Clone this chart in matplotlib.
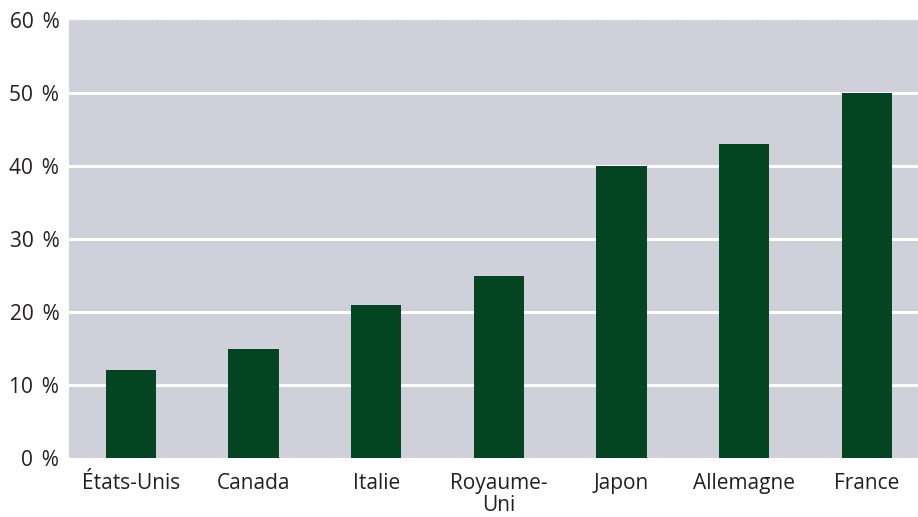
import matplotlib
matplotlib.use("Agg")
import matplotlib.pyplot as plt

plt.rcParams['font.family'] = ['Open Sans', 'DejaVu Sans']

countries = ["États-Unis", "Canada", "Italie", "Royaume-\nUni", "Japon", "Allemagne", "France"]
shares = [12, 15, 21, 25, 40, 43, 50]
y_ticks = [0, 10, 20, 30, 40, 50, 60]
y_labels = [f"{v}\u2009 %" for v in y_ticks]

bar_color = "#034421"
panel_color = "#D0D0DA"
text_color = "#231F20"

fig = plt.figure(figsize=(9.18, 5.17), dpi=100)
ax = fig.add_axes([0.0752, 0.1141, 0.9248, 0.8472])
ax.set_facecolor(panel_color)

x = range(len(countries))
ax.bar(x, shares, width=0.41, color=bar_color, zorder=3)

ax.set_xlim(-0.505, 6.416)
ax.set_ylim(0, 60)

# horizontal gridlines
for v in y_ticks[1:-1]:
    ax.axhline(v, color="white", linewidth=2.2, zorder=2)
ax.axhline(60, color="#E6E6EC", linewidth=1.2, linestyle=(0, (1, 2)), zorder=2, clip_on=False)

ax.set_yticks(y_ticks)
ax.set_yticklabels(y_labels, fontsize=15, color=text_color)
ax.set_xticks(list(x))
ax.set_xticklabels(countries, fontsize=15, color=text_color, linespacing=1.05)
ax.tick_params(axis="both", length=0)
ax.tick_params(axis="y", pad=7)
ax.tick_params(axis="x", pad=11)

for s in ax.spines.values():
    s.set_visible(False)

fig.savefig("out.png", dpi=100)
